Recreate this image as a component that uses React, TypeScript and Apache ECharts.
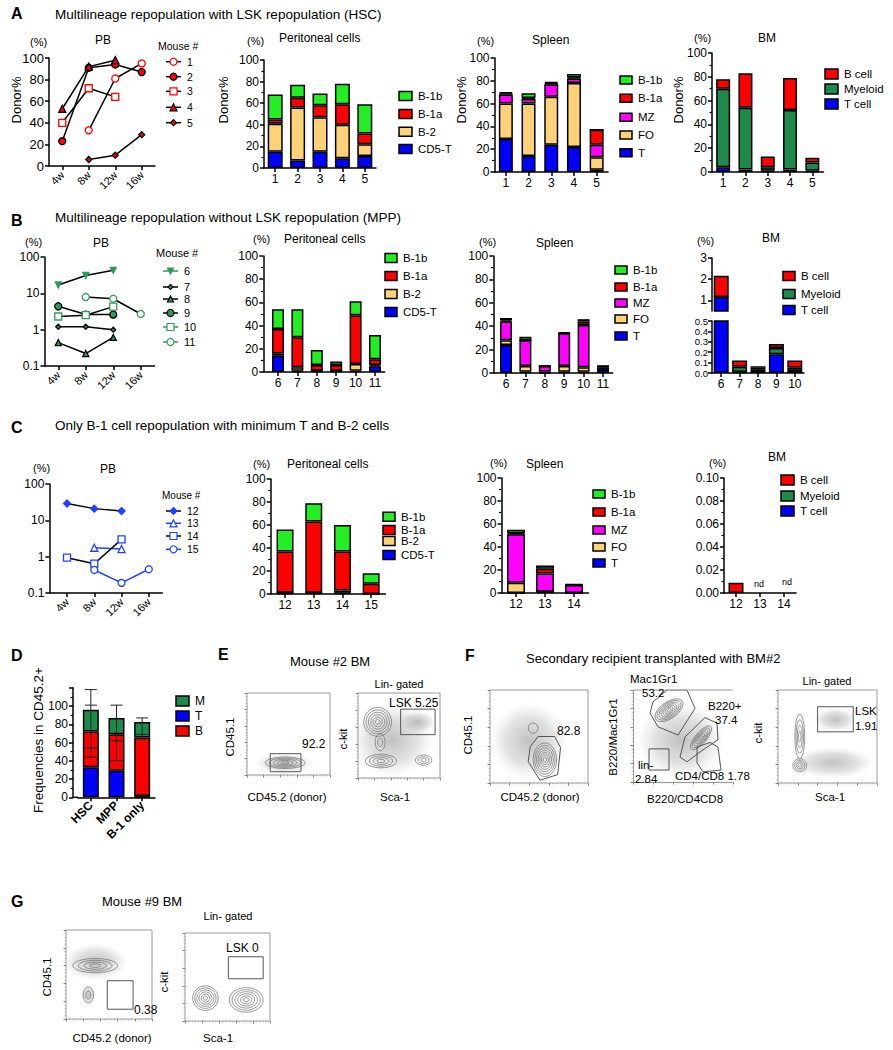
import React, { useEffect, useRef } from 'react';
import * as echarts from 'echarts';

const FONT = '"Liberation Sans", Arial, Helvetica, sans-serif';

const GREEN = '#22ee22';
const RED = '#ff0000';
const ORANGE = '#ffd27a';
const BLUE = '#0000ff';
const MAGENTA = '#ff00ff';
const MYELOID = '#1d8a4b';
const PB_GREEN = '#2f9a5c';
const PB_BLUE = '#2040ff';

// ---------- PB time points ----------
const PB_TIMES = ['4w', '8w', '12w', '16w'];

// ---------- Panel A ----------
const A_MICE = ['1', '2', '3', '4', '5'];
const A_PB_1 = [null, 33, 81, 95];
const A_PB_2 = [23, 91, 94, 87];
const A_PB_3 = [40, 72, 64, null];
const A_PB_4 = [53, 92, 98, null];
const A_PB_5 = [null, 6, 10, 29];

const A_CATS = ['1', '2', '3', '4', '5'];
const A_PER_T = [15, 7, 15, 9, 11];
const A_PER_B2 = [26, 49, 32, 31, 11];
const A_PER_B1A = [4, 9, 11, 19, 10];
const A_PER_B1B = [23, 12, 11, 19, 27];

const A_SPL_T = [29, 14, 24, 22, 2];
const A_SPL_FO = [31, 46, 42, 56, 11];
const A_SPL_MZ = [8, 4, 11, 4, 11];
const A_SPL_B1A = [1, 1, 1, 1, 13];
const A_SPL_B1B = [1, 4, 1, 3, 0];

const A_BM_T = [4, 2, 1, 2, 1];
const A_BM_MY = [66, 52, 3, 50, 7];
const A_BM_B = [8, 29, 9, 27, 4];

// ---------- Panel B ----------
const B_MICE = ['6', '7', '8', '9', '10', '11'];
const B_PB_6 = [17, 31, 43, null];
const B_PB_7 = [1.2, 1.2, 1.0, null];
const B_PB_8 = [0.44, 0.22, 0.61, null];
const B_PB_9 = [4.4, 2.6, 2.6, null];
const B_PB_10 = [2.3, 2.5, 4.3, null];
const B_PB_11 = [null, 7.9, 7.1, 2.7];

const B_CATS = ['6', '7', '8', '9', '10', '11'];
const B_PER_T = [14, 1, 1, 1, 1, 5];
const B_PER_B2 = [2, 3, 0, 0, 6, 1];
const B_PER_B1A = [21, 26, 5, 5, 42, 5];
const B_PER_B1B = [17, 24, 13, 3, 12, 21];

const B_SPL_T = [24, 1, 0, 1, 1, 3];
const B_SPL_FO = [4, 5, 1, 5, 4, 0];
const B_SPL_MZ = [16, 22, 5, 28, 36, 2];
const B_SPL_B1A = [1, 0, 0, 0, 3, 1];
const B_SPL_B1B = [2, 3, 0.5, 1, 2, 0];

const B_BM_CATS = ['6', '7', '8', '9', '10'];
const B_BM_T = [1.15, 0.01, 0.03, 0.18, 0.03];
const B_BM_MY = [0.01, 0.05, 0.02, 0.06, 0.02];
const B_BM_B = [1.0, 0.06, 0.015, 0.04, 0.07];

// ---------- Panel C ----------
const C_MICE = ['12', '13', '14', '15'];
const C_PB_12 = [29, 21, 18, null];
const C_PB_13 = [null, 1.76, 1.62, null];
const C_PB_14 = [0.94, 0.64, 3.0, null];
const C_PB_15 = [null, 0.43, 0.19, 0.45];

const C_CATS = ['12', '13', '14', '15'];
const C_PER_T = [1, 1, 1, 0];
const C_PER_B2 = [0, 0, 2, 0];
const C_PER_B1A = [36, 62, 34, 9];
const C_PER_B1B = [19, 16, 23, 9];

const C_SPL_CATS = ['12', '13', '14'];
const C_SPL_T = [0, 1, 0];
const C_SPL_FO = [9, 0, 0];
const C_SPL_MZ = [42, 16, 7];
const C_SPL_B1A = [1, 4, 0];
const C_SPL_B1B = [3, 3, 1];

const C_BM_CATS = ['12', '13', '14'];
const C_BM_T = [null, null, null];
const C_BM_MY = [null, null, null];
const C_BM_B = [0.009, null, null];

// ---------- Panel D ----------
const D_CATS = ['HSC', 'MPP', 'B-1 only'];
const D_T = [33, 29, 0.5];
const D_B = [39, 40, 65];
const D_M = [24, 18, 17];
const D_ERR_LOW = [44, 40, 64];
const D_ERR_HIGH = [118, 101, 87];
const D_CAPS = [[118, 101, 54, 44], [101, 62, 40], [87, 69, 64, 3]];

// ---------- Flow plots (units 0-100 within each plot) ----------
// [cx, cy, rx, ry, levels, rotationDeg]
const E1_HALO = [[45, 14, 36, 12, 1, 0]];
const E1_CONT = [[46, 15, 24, 7, 5, 0]];
const E1_GATE = [[28, 4], [65, 4], [65, 26], [28, 26], [28, 4]];

const E2_HALO = [[42, 45, 50, 44, 1, 0], [73, 66, 22, 13, 1, 0]];
const E2_CONT = [[24, 66, 17, 17, 6, 0], [27, 42, 6, 10, 2, 0], [28, 20, 19, 8, 4, 0], [80, 21, 10, 6, 3, 0]];
const E2_GATE = [[52, 51], [94, 51], [94, 81], [52, 81], [52, 51]];

const F1_HALO = [[40, 45, 40, 42, 1, 0]];
const F1_CONT = [[56, 25, 12, 18, 7, 0], [44, 59, 5, 5.5, 1, 0]];
const F1_GATE = [[41, 39], [49, 50], [66, 50], [72, 38], [69, 9], [51, 3], [39, 23], [41, 39]];

const F2_HALO = [[48, 45, 44, 42, 1, 0]];
const F2_CONT = [[36, 78, 16, 9, 7, 35], [68, 48, 15, 6, 6, 50]];
const F2_GATE_MAC = [[20, 87], [34, 100], [54, 100], [62, 80], [45, 51], [25, 60], [17, 75], [20, 87]];
const F2_GATE_B220 = [[47, 27], [52, 49], [72, 70], [84, 64], [85, 46], [70, 35], [54, 22], [47, 27]];
const F2_GATE_CD48 = [[64, 38], [77, 43], [85, 38], [88, 13], [70, 11], [64, 21], [64, 38]];
const F2_GATE_LIN = [[16, 13], [36, 13], [36, 36], [16, 36], [16, 13]];

const F3_HALO = [[55, 22, 42, 17, 1, 0], [58, 68, 22, 13, 1, 0]];
const F3_CONT = [[22, 50, 5, 24, 4, 0], [22, 19, 7, 7, 4, 0]];
const F3_GATE = [[40, 55], [76, 55], [76, 82], [40, 82], [40, 55]];

const G1_HALO = [[34, 64, 38, 21, 1, 0], [26, 27, 9, 12, 1, 0]];
const G1_CONT = [[34, 60, 26, 8, 4, 0], [26, 27, 6, 9, 2, 0]];
const G1_GATE = [[48, 11], [78, 11], [78, 43], [48, 43], [48, 11]];

const G2_HALO: number[][] = [];
const G2_CONT = [[24, 26, 15, 14, 6, 0], [72, 24, 20, 14, 6, 0]];
const G2_GATE = [[51, 48], [92, 48], [92, 73], [51, 73], [51, 48]];

function buildOption() {
  const grid: any[] = [];
  const xAxis: any[] = [];
  const yAxis: any[] = [];
  const series: any[] = [];
  const graphic: any[] = [];

  const AX = { show: true, lineStyle: { color: '#000', width: 1.5 } };
  const TICK = { show: true, length: 4, lineStyle: { color: '#000', width: 1.5 } };
  const LBL = { color: '#000', fontSize: 12, fontFamily: FONT, margin: 5 };

  const text = (x: number, y: number, t: string, size = 12, o: any = {}) =>
    graphic.push({
      type: 'text', x, y, rotation: o.rot || 0, z: 50,
      style: { text: t, fontSize: size, fontFamily: FONT, fontWeight: o.bold ? 'bold' : 'normal', fill: '#000', align: o.align || 'left', verticalAlign: 'middle' },
    });
  const vtext = (x: number, y: number, t: string, size = 13) => text(x, y, t, size, { rot: Math.PI / 2, align: 'center' });
  const hline = (x1: number, x2: number, y: number, color = '#000', w = 1.5) =>
    graphic.push({ type: 'line', shape: { x1, y1: y, x2, y2: y }, style: { stroke: color, lineWidth: w }, z: 50 });

  const symG = (kind: string, rot: number, cx: number, cy: number, s: number, fill: string, stroke: string) => {
    const style = { fill, stroke, lineWidth: 1.2 };
    const h = s / 2;
    if (kind === 'circle') return { type: 'circle', shape: { cx, cy, r: h }, style, z: 51 };
    if (kind === 'rect') return { type: 'rect', shape: { x: cx - h, y: cy - h, width: s, height: s }, style, z: 51 };
    if (kind === 'diamond') return { type: 'polygon', shape: { points: [[cx, cy - h], [cx + h, cy], [cx, cy + h], [cx - h, cy]] }, style, z: 51 };
    const d = rot ? -1 : 1;
    return { type: 'polygon', shape: { points: [[cx, cy - d * h], [cx + h, cy + d * h], [cx - h, cy + d * h]] }, style, z: 51 };
  };

  function boxLegend(x: number, ys: number[], names: string[], colors: string[], w: number, h: number, size = 11.5) {
    names.forEach((n, i) => {
      graphic.push({ type: 'rect', shape: { x, y: ys[i] - h / 2, width: w, height: h }, style: { fill: colors[i], stroke: '#000', lineWidth: 1.5 }, z: 50 });
      text(x + w + 6, ys[i], n, size);
    });
  }

  function lineLegend(x: number, ys: number[], c: any, size = 10.5) {
    c.names.forEach((n: string, i: number) => {
      graphic.push({ type: 'line', shape: { x1: x, y1: ys[i], x2: x + 15, y2: ys[i] }, style: { stroke: c.legendLine[i], lineWidth: 1.5 }, z: 50 });
      graphic.push(symG(c.syms[i], c.rots[i], x + 7.5, ys[i], c.sizes[i], c.fills[i], c.strokes[i]));
      text(x + 21, ys[i], n, size);
    });
  }

  function barChart(c: any) {
    const gi = grid.length;
    grid.push({ left: c.left, top: c.top, width: c.width, height: c.height });
    xAxis.push({
      type: 'category', gridIndex: gi, data: c.cats, show: c.showX !== false,
      axisLine: AX, axisTick: { ...TICK, alignWithLabel: true },
      axisLabel: { ...LBL, interval: 0, ...(c.xLabel || {}) }, splitLine: { show: false },
    });
    const yLabel: any = { ...LBL, ...(c.yLabel || {}) };
    if (c.fmt) yLabel.formatter = c.fmt;
    if (c.labelValues) yLabel.customValues = c.labelValues;
    const yTick: any = { ...TICK };
    if (c.tickValues) yTick.customValues = c.tickValues;
    yAxis.push({
      type: 'value', gridIndex: gi, min: c.min, max: c.max, interval: c.interval, offset: c.yOffset || 0,
      axisLine: AX, axisTick: yTick,
      minorTick: { show: c.minor !== false, splitNumber: 2, length: 2.5, lineStyle: { color: '#000', width: 1.2 } },
      axisLabel: yLabel, splitLine: { show: false },
    });
    c.layers.forEach((l: any) =>
      series.push({
        type: 'bar', name: l[0], xAxisIndex: gi, yAxisIndex: gi, stack: 'stk' + gi, data: l[1], barWidth: c.barWidth,
        itemStyle: { color: l[2], borderColor: '#000', borderWidth: 1.5 }, emphasis: { disabled: true },
      }),
    );
    return gi;
  }

  function pbChart(c: any) {
    const gi = grid.length;
    grid.push({ left: c.left, top: c.top, width: c.width, height: c.height });
    xAxis.push({
      type: 'category', gridIndex: gi, data: PB_TIMES, boundaryGap: true,
      axisLine: AX, axisTick: { ...TICK, alignWithLabel: true },
      axisLabel: { ...LBL, fontSize: 11, rotate: 45, interval: 0, margin: 7 },
    });
    if (c.log) {
      yAxis.push({
        type: 'log', logBase: 10, min: 0.1, max: 100, gridIndex: gi, offset: c.yOffset || 0,
        axisLine: AX, axisTick: TICK, axisLabel: { ...LBL, fontSize: c.ySize || 12 },
        splitLine: { show: false }, minorTick: { show: false },
      });
    } else {
      yAxis.push({
        type: 'value', min: 0, max: 100, interval: 20, gridIndex: gi, offset: c.yOffset || 0,
        axisLine: AX, axisTick: TICK, axisLabel: { ...LBL, fontSize: c.ySize || 12 }, splitLine: { show: false },
      });
    }
    c.data.forEach((d: any, i: number) =>
      series.push({
        type: 'line', name: 'm' + c.names[i], xAxisIndex: gi, yAxisIndex: gi, data: d,
        symbol: c.syms[i], symbolRotate: c.rots[i], symbolSize: c.sizes[i], showAllSymbol: true,
        connectNulls: false, lineStyle: { color: c.lines[i], width: 1.5 },
        itemStyle: { color: c.fills[i], borderColor: c.strokes[i], borderWidth: 1.3 },
        emphasis: { disabled: true }, z: 3,
      }),
    );
  }

  const haloRender = (p: any, api: any) => {
    const c = api.coord([api.value(0), api.value(1)]);
    const s = api.size([api.value(2), api.value(3)]);
    return {
      type: 'ellipse', x: c[0], y: c[1], rotation: (api.value(5) * Math.PI) / 180,
      shape: { cx: 0, cy: 0, rx: s[0], ry: s[1] },
      style: {
        fill: { type: 'radial', x: 0.5, y: 0.5, r: 0.5, colorStops: [{ offset: 0, color: 'rgba(140,140,140,0.55)' }, { offset: 0.6, color: 'rgba(170,170,170,0.35)' }, { offset: 1, color: 'rgba(200,200,200,0)' }] },
      },
    };
  };
  const contRender = (p: any, api: any) => {
    const c = api.coord([api.value(0), api.value(1)]);
    const s = api.size([api.value(2), api.value(3)]);
    const n = api.value(4);
    const children: any[] = [];
    for (let k = n; k >= 1; k--) {
      children.push({ type: 'ellipse', shape: { cx: 0, cy: 0, rx: (s[0] * k) / n, ry: (s[1] * k) / n }, style: { fill: 'none', stroke: '#6f6f6f', lineWidth: 0.7 } });
    }
    return { type: 'group', x: c[0], y: c[1], rotation: (api.value(5) * Math.PI) / 180, children };
  };

  function flowPlot(c: any) {
    const gi = grid.length;
    const [x0, y0, x1, y1] = c.box;
    grid.push({ left: x0, top: y0, width: x1 - x0, height: y1 - y0, show: !c.openRight, borderColor: '#9a9a9a', borderWidth: 1, backgroundColor: 'transparent' });
    const fAx = { show: !!c.openRight, lineStyle: { color: '#9a9a9a', width: 1 } };
    const fTick = { show: true, length: 2.5, lineStyle: { color: '#666', width: 0.8 } };
    const fMinor = { show: true, splitNumber: 5, length: 1.5, lineStyle: { color: '#999', width: 0.5 } };
    const ax = { type: 'value', gridIndex: gi, min: 0, max: 100, interval: 20, axisLine: fAx, axisTick: fTick, minorTick: fMinor, axisLabel: { show: false }, splitLine: { show: false } };
    xAxis.push({ ...ax });
    yAxis.push({ ...ax });
    if (c.halos.length) series.push({ type: 'custom', xAxisIndex: gi, yAxisIndex: gi, data: c.halos, renderItem: haloRender, silent: true, clip: true, z: 1 });
    series.push({ type: 'custom', xAxisIndex: gi, yAxisIndex: gi, data: c.conts, renderItem: contRender, silent: true, clip: true, z: 2 });
    c.gates.forEach((g: any) =>
      series.push({ type: 'line', xAxisIndex: gi, yAxisIndex: gi, data: g, symbol: 'none', lineStyle: { color: '#555', width: 1 }, silent: true, z: 3 }),
    );
    if (c.openRight) hline(x0, x1, y0, '#9a9a9a', 1);
  }

  // ======== Titles & letters ========
  text(11, 13, 'A', 16, { bold: true });
  text(55, 14, 'Multilineage repopulation with LSK repopulation (HSC)', 13.5);
  text(11, 220, 'B', 16, { bold: true });
  text(55, 217, 'Multilineage repopulation without LSK repopulation (MPP)', 13.5);
  text(11, 427, 'C', 16, { bold: true });
  text(55, 425, 'Only B-1 cell repopulation with minimum T and B-2 cells', 13.5);
  text(11, 655, 'D', 16, { bold: true });
  text(218, 654, 'E', 16, { bold: true });
  text(465, 655, 'F', 16, { bold: true });
  text(11, 901, 'G', 16, { bold: true });

  // ======== Panel A ========
  const aPB = {
    names: A_MICE, data: [A_PB_1, A_PB_2, A_PB_3, A_PB_4, A_PB_5],
    syms: ['circle', 'circle', 'rect', 'triangle', 'diamond'], rots: [0, 0, 0, 0, 0], sizes: [7, 7, 7, 7, 6],
    fills: ['#fff', RED, '#fff', RED, RED], strokes: [RED, '#000', RED, '#000', '#000'],
    lines: ['#000', '#000', '#000', '#000', '#000'], legendLine: ['#000', '#000', '#000', '#000', '#000'],
  };
  pbChart({ ...aPB, left: 49, top: 58, width: 106, height: 108, ySize: 13 });
  text(30, 42, '(%)', 11); text(95, 40, 'PB', 12); vtext(16, 100, 'Donor%', 13);
  text(158, 46, 'Mouse #', 10.5);
  lineLegend(166, [61.7, 76.7, 91.3, 107.3, 122.7], aPB);

  barChart({ left: 264, top: 60, width: 112, height: 108, cats: A_CATS, min: 0, max: 100, interval: 20, barWidth: 15,
    layers: [['CD5-T', A_PER_T, BLUE], ['B-2', A_PER_B2, ORANGE], ['B-1a', A_PER_B1A, RED], ['B-1b', A_PER_B1B, GREEN]] });
  text(247, 41, '(%)', 11); text(279, 38, 'Peritoneal cells', 12); vtext(223, 100, 'Donor%');
  boxLegend(399, [96, 114, 131.7, 149], ['B-1b', 'B-1a', 'B-2', 'CD5-T'], [GREEN, RED, ORANGE, BLUE], 13, 9);

  barChart({ left: 494.5, top: 58, width: 113.5, height: 114, cats: A_CATS, min: 0, max: 100, interval: 20, barWidth: 14,
    layers: [['T', A_SPL_T, BLUE], ['FO', A_SPL_FO, ORANGE], ['MZ', A_SPL_MZ, MAGENTA], ['B-1a', A_SPL_B1A, RED], ['B-1b', A_SPL_B1B, GREEN]] });
  text(477, 41, '(%)', 11); text(532, 40, 'Spleen', 12); vtext(461, 100, 'Donor%');
  boxLegend(620, [80, 98.3, 117.3, 135, 152.7], ['B-1b', 'B-1a', 'MZ', 'FO', 'T'], [GREEN, RED, MAGENTA, ORANGE, BLUE], 12, 8);

  barChart({ left: 712, top: 53, width: 111.5, height: 119, cats: A_CATS, min: 0, max: 100, interval: 20, barWidth: 14,
    layers: [['T cell', A_BM_T, BLUE], ['Myeloid', A_BM_MY, MYELOID], ['B cell', A_BM_B, RED]] });
  text(694, 38, '(%)', 11); text(758, 38, 'BM', 12); vtext(678, 100, 'Donor%');
  boxLegend(825, [74, 89, 104], ['B cell', 'Myeloid', 'T cell'], [RED, MYELOID, BLUE], 13, 10);

  // ======== Panel B ========
  const bPB = {
    names: B_MICE, data: [B_PB_6, B_PB_7, B_PB_8, B_PB_9, B_PB_10, B_PB_11],
    syms: ['triangle', 'diamond', 'triangle', 'circle', 'rect', 'circle'], rots: [180, 0, 0, 0, 0, 0], sizes: [6, 5, 6, 7, 7, 7],
    fills: [PB_GREEN, PB_GREEN, PB_GREEN, PB_GREEN, '#fff', '#fff'], strokes: [PB_GREEN, '#000', '#000', '#000', PB_GREEN, PB_GREEN],
    lines: ['#000', '#000', '#000', '#000', '#000', '#000'], legendLine: [PB_GREEN, '#000', '#000', '#000', PB_GREEN, PB_GREEN],
  };
  pbChart({ ...bPB, left: 44.5, top: 257, width: 110, height: 109, log: true });
  text(25, 242, '(%)', 11); text(93, 243, 'PB', 12); text(156, 253, 'Mouse #', 11);
  lineLegend(163, [271, 287, 299, 313, 327, 342], bPB, 11);

  barChart({ left: 268.3, top: 256, width: 116.4, height: 116, cats: B_CATS, min: 0, max: 100, interval: 20, barWidth: 12, yOffset: 5,
    layers: [['CD5-T', B_PER_T, BLUE], ['B-2', B_PER_B2, ORANGE], ['B-1a', B_PER_B1A, RED], ['B-1b', B_PER_B1B, GREEN]] });
  hline(263, 268.3, 372);
  text(253, 239, '(%)', 11); text(284, 239, 'Peritoneal cells', 12);
  boxLegend(385, [258, 276, 294, 312], ['B-1b', 'B-1a', 'B-2', 'CD5-T'], [GREEN, RED, ORANGE, BLUE], 12, 9);

  barChart({ left: 496.3, top: 256, width: 116.4, height: 117, cats: B_CATS, min: 0, max: 100, interval: 20, barWidth: 12, yOffset: 3,
    layers: [['T', B_SPL_T, BLUE], ['FO', B_SPL_FO, ORANGE], ['MZ', B_SPL_MZ, MAGENTA], ['B-1a', B_SPL_B1A, RED], ['B-1b', B_SPL_B1B, GREEN]] });
  hline(493, 496.3, 373);
  text(479, 242, '(%)', 11); text(536, 243, 'Spleen', 12);
  boxLegend(615, [270, 287, 303, 319, 336], ['B-1b', 'B-1a', 'MZ', 'FO', 'T'], [GREEN, RED, MAGENTA, ORANGE, BLUE], 12, 8);

  const bBmLayers = [['T cell', B_BM_T, BLUE], ['Myeloid', B_BM_MY, MYELOID], ['B cell', B_BM_B, RED]];
  barChart({ left: 712, top: 258, width: 92, height: 53, cats: B_BM_CATS, min: 0.5, max: 3, interval: 0.5, barWidth: 15, showX: false, minor: false,
    fmt: (v: number) => (Math.abs(v - Math.round(v)) < 1e-9 ? String(Math.round(v)) : ''), labelValues: [1, 2, 3], tickValues: [1, 2, 3], layers: bBmLayers });
  barChart({ left: 712, top: 321, width: 92, height: 52, cats: B_BM_CATS, min: 0, max: 0.5, interval: 0.1, barWidth: 15, minor: false,
    yLabel: { fontSize: 9.5, lineHeight: 9.5, margin: 4 },
    fmt: (v: number) => v.toFixed(1), layers: bBmLayers });
  text(697, 241, '(%)', 11); text(762, 238, 'BM', 12);
  boxLegend(783, [276, 294, 310], ['B cell', 'Myeloid', 'T cell'], [RED, MYELOID, BLUE], 12, 9);

  // ======== Panel C ========
  const cPB = {
    names: C_MICE, data: [C_PB_12, C_PB_13, C_PB_14, C_PB_15],
    syms: ['diamond', 'triangle', 'rect', 'circle'], rots: [0, 0, 0, 0], sizes: [7, 7, 7, 7],
    fills: [PB_BLUE, '#fff', '#fff', '#fff'], strokes: [PB_BLUE, PB_BLUE, PB_BLUE, PB_BLUE],
    lines: ['#000', PB_BLUE, '#000', PB_BLUE], legendLine: ['#000', PB_BLUE, '#000', PB_BLUE],
  };
  pbChart({ ...cPB, left: 53.4, top: 484, width: 109, height: 109, log: true, yOffset: 4 });
  hline(49, 53.4, 593);
  text(33, 468, '(%)', 11); text(100, 469, 'PB', 12); text(162, 495, 'Mouse #', 10);
  lineLegend(166, [511, 523.3, 536, 549.3], cPB, 10.5);

  barChart({ left: 270.7, top: 479, width: 114.8, height: 115, cats: C_CATS, min: 0, max: 100, interval: 20, barWidth: 17,
    layers: [['CD5-T', C_PER_T, BLUE], ['B-2', C_PER_B2, ORANGE], ['B-1a', C_PER_B1A, RED], ['B-1b', C_PER_B1B, GREEN]] });
  text(253, 464, '(%)', 11); text(287, 464, 'Peritoneal cells', 12);
  boxLegend(383, [516.7, 530, 541, 555], ['B-1b', 'B-1a', 'B-2', 'CD5-T'], [GREEN, RED, ORANGE, BLUE], 12, 9);

  barChart({ left: 501.5, top: 478, width: 87, height: 115, cats: C_SPL_CATS, min: 0, max: 100, interval: 20, barWidth: 18,
    layers: [['T', C_SPL_T, BLUE], ['FO', C_SPL_FO, ORANGE], ['MZ', C_SPL_MZ, MAGENTA], ['B-1a', C_SPL_B1A, RED], ['B-1b', C_SPL_B1B, GREEN]] });
  text(490, 463, '(%)', 11); text(526, 464, 'Spleen', 12);
  boxLegend(593, [494, 512, 530, 547, 563], ['B-1b', 'B-1a', 'MZ', 'FO', 'T'], [GREEN, RED, MAGENTA, ORANGE, BLUE], 12, 8);

  barChart({ left: 724, top: 478, width: 72, height: 115, cats: C_BM_CATS, min: 0, max: 0.1, interval: 0.02, barWidth: 15,
    fmt: (v: number) => v.toFixed(2), layers: [['T cell', C_BM_T, BLUE], ['Myeloid', C_BM_MY, MYELOID], ['B cell', C_BM_B, RED]] });
  text(709, 463, '(%)', 11); text(768, 457, 'BM', 12);
  boxLegend(781, [480, 496, 511], ['B cell', 'Myeloid', 'T cell'], [RED, MYELOID, BLUE], 13, 10);
  text(759, 584, 'nd', 9, { align: 'center' }); text(787, 582, 'nd', 9, { align: 'center' });

  // ======== Panel D ========
  const dg = barChart({ left: 78, top: 687.8, width: 77, height: 109.5, cats: D_CATS, min: 0, max: 120, interval: 20, barWidth: 16, yOffset: 5,
    fmt: (v: number) => (v > 100 ? '' : String(v)),
    xLabel: { rotate: 45, fontWeight: 'bold', fontSize: 12, margin: 6 },
    layers: [['T', D_T, BLUE], ['B', D_B, RED], ['M', D_M, MYELOID]] });
  hline(73, 78, 797.3);
  series.push({
    type: 'custom', xAxisIndex: dg, yAxisIndex: dg, z: 5, silent: true,
    data: D_CATS.map((_, i) => [i, D_ERR_LOW[i], D_ERR_HIGH[i]]),
    renderItem: (p: any, api: any) => {
      const i = api.value(0);
      const top = api.coord([i, api.value(2)]);
      const bot = api.coord([i, api.value(1)]);
      const st = { stroke: '#222', lineWidth: 1 };
      const ch: any[] = [{ type: 'line', shape: { x1: top[0], y1: top[1], x2: bot[0], y2: bot[1] }, style: st }];
      D_CAPS[i].forEach((v) => {
        const q = api.coord([i, v]);
        ch.push({ type: 'line', shape: { x1: q[0] - 6, y1: q[1], x2: q[0] + 6, y2: q[1] }, style: st });
      });
      return { type: 'group', children: ch };
    },
  });
  vtext(38, 740, 'Frequencies in CD45.2+', 13.5);
  boxLegend(176, [701, 716, 731], ['M', 'T', 'B'], [MYELOID, BLUE, RED], 13, 10, 12);

  // ======== Panel E ========
  text(290, 661, 'Mouse #2 BM', 13);
  flowPlot({ box: [247, 693, 330, 775], halos: E1_HALO, conts: E1_CONT, gates: [E1_GATE] });
  text(302, 744, '92.2', 12);
  vtext(230, 737, 'CD45.1', 11.5);
  text(287, 797, 'CD45.2 (donor)', 11.5, { align: 'center' });
  flowPlot({ box: [358, 693, 440, 778], halos: E2_HALO, conts: E2_CONT, gates: [E2_GATE] });
  text(399, 684, 'Lin- gated', 11, { align: 'center' });
  text(389, 703, 'LSK 5.25', 12);
  vtext(343, 739, 'c-kit', 11.5);
  text(395, 797, 'Sca-1', 11.5, { align: 'center' });

  // ======== Panel F ========
  text(526, 658, 'Secondary recipient transplanted with BM#2', 13);
  flowPlot({ box: [490, 690, 588, 783], halos: F1_HALO, conts: F1_CONT, gates: [F1_GATE] });
  text(557, 731, '82.8', 12);
  vtext(468, 735, 'CD45.1', 11.5);
  text(540, 797, 'CD45.2 (donor)', 11.5, { align: 'center' });
  flowPlot({ box: [633, 690, 733, 782], openRight: true, halos: F2_HALO, conts: F2_CONT, gates: [F2_GATE_MAC, F2_GATE_B220, F2_GATE_CD48, F2_GATE_LIN] });
  text(630, 679, 'Mac1Gr1', 11.5);
  text(642, 693, '53.2', 11.5);
  text(708, 706, 'B220+', 11.5);
  text(715, 720, '37.4', 11.5);
  text(638, 765, 'lin-', 11.5);
  text(635, 779, '2.84', 11.5);
  text(675, 776, 'CD4/CD8 1.78', 11.5);
  vtext(613, 737, 'B220/Mac1Gr1', 11.5);
  text(685, 799, 'B220/CD4CD8', 11.5, { align: 'center' });
  flowPlot({ box: [778, 690, 877, 783], halos: F3_HALO, conts: F3_CONT, gates: [F3_GATE] });
  text(827, 681, 'Lin- gated', 11, { align: 'center' });
  text(855, 711, 'LSK', 11.5);
  text(855, 726, '1.91', 11.5);
  vtext(758, 733, 'c-kit', 11.5);
  text(830, 797, 'Sca-1', 11.5, { align: 'center' });

  // ======== Panel G ========
  text(102, 901, 'Mouse #9 BM', 13);
  flowPlot({ box: [66, 930, 152, 1019], halos: G1_HALO, conts: G1_CONT, gates: [G1_GATE] });
  text(134, 1010, '0.38', 12);
  vtext(47, 977, 'CD45.1', 11.5);
  text(112, 1038, 'CD45.2 (donor)', 11.5, { align: 'center' });
  flowPlot({ box: [185, 933, 270, 1021], halos: G2_HALO, conts: G2_CONT, gates: [G2_GATE] });
  text(228, 916, 'Lin- gated', 11, { align: 'center' });
  text(226, 948, 'LSK 0', 12);
  vtext(164, 982, 'c-kit', 11.5);
  text(218, 1038, 'Sca-1', 11.5, { align: 'center' });

  return {
    animation: false,
    backgroundColor: '#fff',
    textStyle: { fontFamily: FONT },
    grid, xAxis, yAxis, series, graphic,
  };
}

export default function App() {
  const ref = useRef<HTMLDivElement>(null);
  useEffect(() => {
    const chart = echarts.init(ref.current as HTMLDivElement, undefined, { renderer: 'svg' });
    chart.setOption(buildOption() as any);
    return () => chart.dispose();
  }, []);
  return <div ref={ref} style={{ position: 'absolute', left: 0, top: 0, width: 893, height: 1050, background: '#fff' }} />;
}
